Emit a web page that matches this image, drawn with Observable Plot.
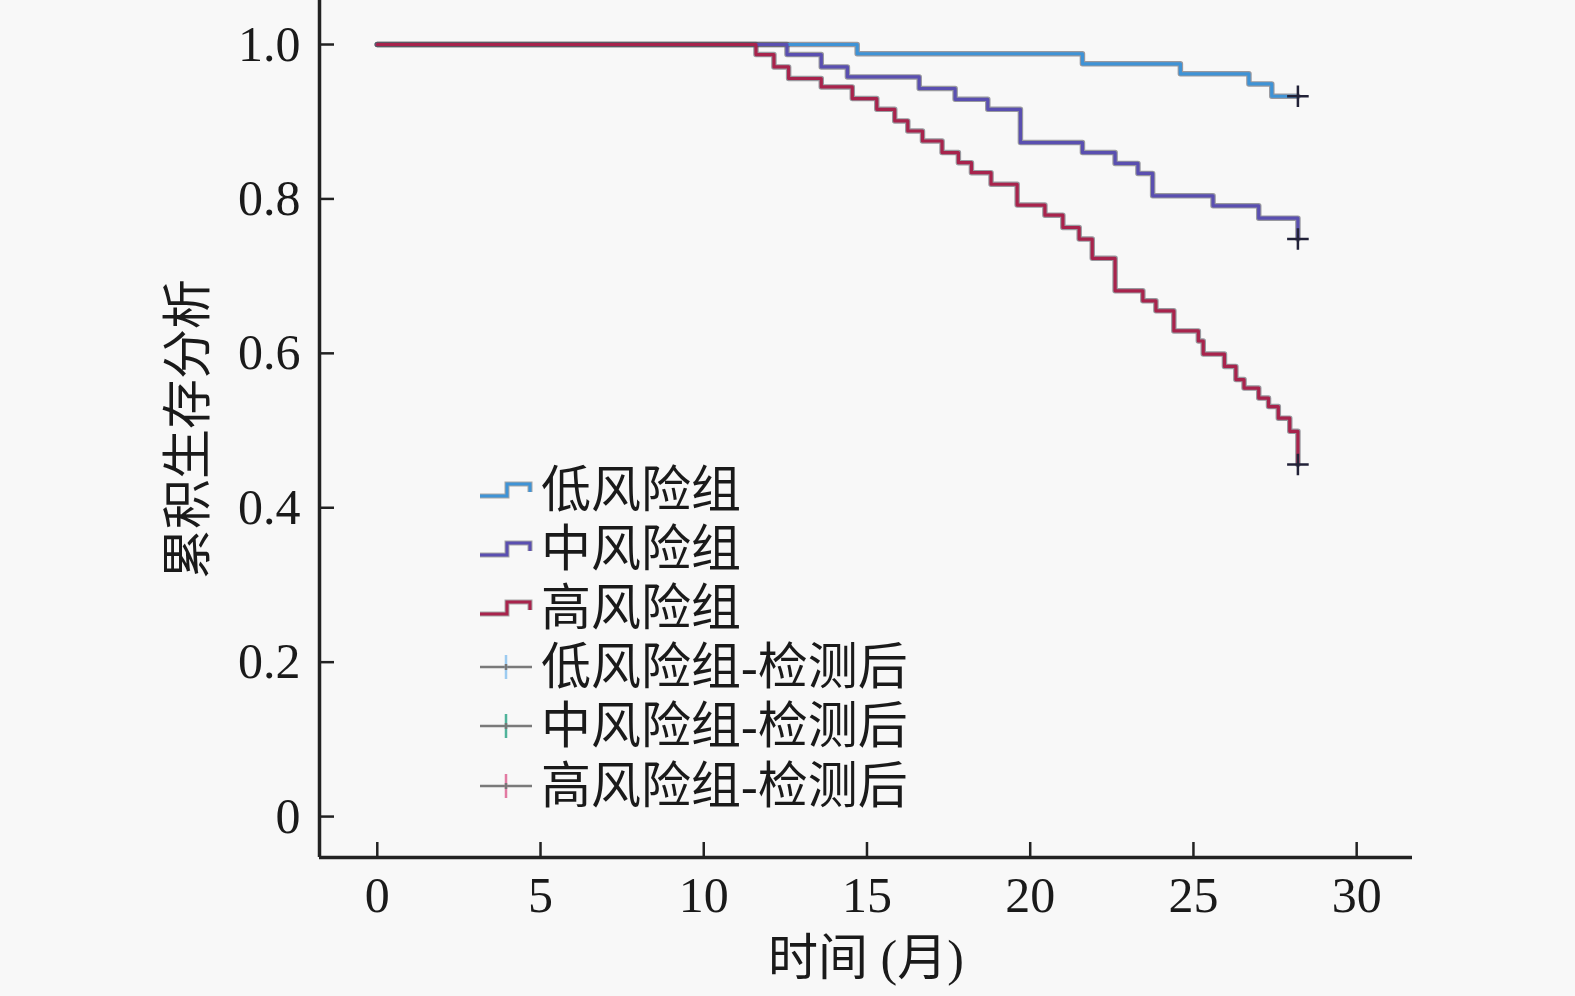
<!DOCTYPE html>
<html>
<head>
<meta charset="utf-8">
<script src="https://cdn.jsdelivr.net/npm/d3@7"></script>
<script src="https://cdn.jsdelivr.net/npm/@observablehq/plot@0.6"></script>
<style>
  html, body { margin: 0; padding: 0; background: #f8f8f8; }
  #wrap { position: relative; width: 1575px; height: 996px; }
  #legend { position: absolute; left: 478px; top: 460px; font-family: "Liberation Serif", "Noto Sans CJK SC", serif; font-size: 50px; color: #1a1a1a; }
  .row { display: flex; align-items: center; height: 59.2px; }
  .row svg { width: 56px; height: 30px; margin-right: 7px; flex: none; }
  .row span { line-height: 1; white-space: nowrap; }
</style>
</head>
<body>
<div id="wrap"><div id="legend"></div></div>
<script>
// ---- data ----
const groups = ["低风险组", "中风险组", "高风险组"];
const censorLabels = ["低风险组-检测后", "中风险组-检测后", "高风险组-检测后"];

const lowTime = [0, 14.7, 21.6, 24.6, 26.7, 27.4, 28.2];
const lowSurv = [1.0, 0.988, 0.975, 0.962, 0.949, 0.933, 0.933];

const midTime = [0, 12.55, 13.6, 14.4, 16.6, 17.7, 18.7, 19.7, 21.6, 22.6, 23.3, 23.75, 25.6, 27.0, 28.2];
const midSurv = [1.0, 0.987, 0.971, 0.958, 0.943, 0.929, 0.916, 0.873, 0.860, 0.846, 0.833, 0.804, 0.791, 0.775, 0.748];

const highTime = [0, 11.6, 12.15, 12.6, 13.6, 14.55, 15.3, 15.85, 16.25, 16.7, 17.3, 17.8, 18.2, 18.8, 19.6, 20.45, 21.0, 21.5, 21.9, 22.6, 23.45, 23.85, 24.4, 25.15, 25.3, 25.95, 26.3, 26.55, 27.0, 27.3, 27.6, 27.95, 28.2];
const highSurv = [1.0, 0.987, 0.971, 0.956, 0.945, 0.930, 0.916, 0.901, 0.888, 0.875, 0.860, 0.847, 0.834, 0.819, 0.792, 0.779, 0.763, 0.748, 0.723, 0.681, 0.668, 0.655, 0.629, 0.616, 0.599, 0.583, 0.566, 0.555, 0.542, 0.531, 0.516, 0.499, 0.456];

const censorTime = [28.2, 28.2, 28.2];
const censorSurv = [0.933, 0.748, 0.456];

const xTicks = [0, 5, 10, 15, 20, 25, 30];
const yTicks = [0, 0.2, 0.4, 0.6, 0.8, 1.0];
const yTickLabels = ["0", "0.2", "0.4", "0.6", "0.8", "1.0"];

const lineColors = ["#3f93d6", "#5a4fb0", "#a8234c"];
const censorColors = ["#9ccbf0", "#4fb39a", "#e27aa2"];

// ---- build tables ----
const series = [lowTime, midTime, highTime].flatMap((ts, gi) => {
  const ss = [lowSurv, midSurv, highSurv][gi];
  return ts.map((t, i) => ({group: groups[gi], t, s: ss[i]}));
});
const censors = censorTime.map((t, i) => ({group: groups[i], t, s: censorSurv[i]}));

const xDomain = [-1.77, 31.71];
const yDomain = [-0.053, 1.057];
const font = "'Liberation Serif', 'Noto Sans CJK SC', serif";

const chart = Plot.plot({
  width: 1575,
  height: 996,
  marginLeft: 319,
  marginRight: 163,
  marginTop: 0,
  marginBottom: 139,
  style: {background: "#f8f8f8", fontFamily: font, fontSize: "50px", color: "#1a1a1a"},
  x: {domain: xDomain},
  y: {domain: yDomain},
  color: {domain: groups, range: lineColors},
  marks: [
    Plot.axisX(xTicks, {tickSize: 0, tickPadding: 19, fontSize: 50, label: null}),
    Plot.axisY(yTicks, {tickSize: 0, tickPadding: 19, fontSize: 50, label: null, tickFormat: (d) => yTickLabels[yTicks.indexOf(d)]}),
    Plot.tickX(xTicks, {x: (d) => d, insetTop: 842, stroke: "#222", strokeWidth: 2.5}),
    Plot.tickY(yTicks, {y: (d) => d, insetRight: 1078, stroke: "#222", strokeWidth: 2.5}),
    Plot.ruleX([xDomain[0]], {stroke: "#222", strokeWidth: 3.5}),
    Plot.ruleY([yDomain[0]], {stroke: "#222", strokeWidth: 3.5}),
    Plot.line(series, {x: "t", y: "s", z: "group", stroke: "#4a4a55", strokeWidth: 5.5, curve: "step-after", strokeOpacity: 0.55}),
    Plot.line(series, {x: "t", y: "s", z: "group", stroke: "group", strokeWidth: 3.2, curve: "step-after"}),
    Plot.dot(censors, {x: "t", y: "s", symbol: "plus", r: 7, stroke: "#222238", strokeWidth: 2.5}),
    Plot.text(["累积生存分析"], {frameAnchor: "left", dx: -131, rotate: -90, textAnchor: "middle", lineAnchor: "middle", fontSize: 50, fill: "#1a1a1a"}),
    Plot.text(["时间 (月)"], {frameAnchor: "bottom", dy: 101, textAnchor: "middle", lineAnchor: "middle", fontSize: 50, fill: "#1a1a1a"})
  ]
});
document.getElementById("wrap").prepend(chart);

// ---- legend ----
const legend = document.getElementById("legend");
groups.forEach((g, i) => {
  const row = document.createElement("div");
  row.className = "row";
  row.innerHTML = `<svg viewBox="0 0 56 30"><path d="M2,21 H29 V9 H52 V17" fill="none" stroke="#555" stroke-width="5" stroke-opacity="0.5"/><path d="M2,21 H29 V9 H52 V17" fill="none" stroke="${lineColors[i]}" stroke-width="3"/></svg><span>${g}</span>`;
  legend.appendChild(row);
});
censorLabels.forEach((g, i) => {
  const row = document.createElement("div");
  row.className = "row";
  row.innerHTML = `<svg viewBox="0 0 56 30"><path d="M2,15 H54" stroke="#7a7a7a" stroke-width="2.5"/><path d="M28,3 V27" stroke="${censorColors[i]}" stroke-width="2.5"/><path d="M28,12 V18" stroke="#777" stroke-width="2.5"/></svg><span>${g}</span>`;
  legend.appendChild(row);
});
</script>
</body>
</html>
